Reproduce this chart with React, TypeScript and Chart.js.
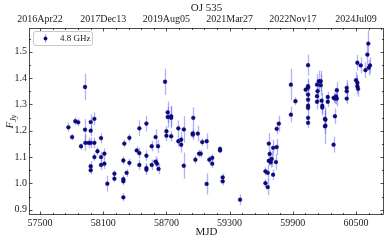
import React, { useEffect, useRef } from 'react';
import { Chart, registerables } from 'chart.js';
Chart.register(...registerables);

const title = 'OJ 535';
const legendLabel = '4.8 GHz';
const xLabel = 'MJD';

const mjd = [
  57769, 57804, 57835, 57862, 57889, 57927, 57927, 57930, 57960, 57981, 57981, 57981, 57981, 57981,
  58016, 58016, 58016, 58045, 58079, 58079, 58079, 58111, 58111, 58139, 58206, 58206,
  58291, 58291, 58291, 58291, 58300, 58322, 58348, 58348, 58418, 58443, 58443, 58443, 58510, 58510,
  58510, 58510, 58560, 58560, 58597, 58597, 58610, 58620, 58625,
  58687, 58700, 58700, 58712, 58712, 58745, 58745, 58745, 58813, 58813, 58840, 58840, 58865, 58865,
  58955, 58950, 58950, 58975, 58998, 59010, 59025, 59040, 59082, 59082, 59107, 59135, 59135, 59209,
  59209, 59234, 59234, 59399,
  59640, 59640, 59662, 59662, 59672, 59672, 59680, 59690, 59700, 59713, 59713, 59740, 59747, 59747, 59767,
  59882, 59882, 59925, 60022, 60045, 60045, 60045, 60045, 60045, 60045, 60045, 60045, 60045,
  60130, 60130, 60135, 60130, 60147, 60165, 60165, 60173, 60180, 60180, 60205, 60205, 60210, 60210,
  60232, 60232, 60287, 60300, 60300, 60310, 60287, 60318, 60318,
  60412, 60412, 60412, 60500, 60513, 60513, 60513, 60520, 60545, 60590, 60608, 60617, 60633, 60620,
];
const flux = [
  1.213, 1.176, 1.236, 1.232, 1.141, 1.366, 1.204, 1.154, 1.154, 1.233, 1.2, 1.154, 1.065, 1.05,
  1.245, 1.154, 1.1, 1.122, 1.172, 1.1, 1.07, 1.113, 1.075, 0.999, 1.037, 1.018,
  1.008, 1.016, 0.947, 1.087, 1.151, 1.04, 1.078, 1.173, 1.125, 1.115, 1.209, 1.07, 1.227, 1.105,
  1.058, 1.052, 1.141, 1.07, 1.176, 1.083, 1.075, 1.141, 1.055,
  1.386, 1.198, 1.181, 1.27, 1.252, 1.255, 1.249, 1.179, 1.209, 1.16, 1.166, 1.147, 1.205, 1.067,
  1.249, 1.19, 1.185, 1.09, 1.189, 1.113, 1.113, 1.157, 1.16, 0.998, 1.09, 1.097, 1.075, 1.131,
  1.125, 1.023, 1.008, 0.938,
  1.046, 1.001, 1.04, 0.986, 1.151, 1.086, 1.112, 1.08, 1.093, 1.135, 1.033, 1.081, 1.207, 1.138, 1.227,
  1.375, 1.261, 1.312, 1.356, 1.449, 1.369, 1.363, 1.337, 1.318, 1.295, 1.287, 1.249, 1.23,
  1.375, 1.331, 1.35, 1.31, 1.388, 1.388, 1.373, 1.314, 1.295, 1.288, 1.245, 1.217, 1.242, 1.219,
  1.328, 1.31, 1.325, 1.322, 1.255, 1.33, 1.147, 1.354, 1.322,
  1.363, 1.35, 1.322, 1.392, 1.458, 1.382, 1.369, 1.359, 1.448, 1.43, 1.489, 1.531, 1.448, 1.439,
];
const fluxErr = [
  0.018, 0.012, 0.015, 0.015, 0.012, 0.05, 0.04, 0.03, 0.02, 0.03, 0.02, 0.02, 0.02, 0.015,
  0.025, 0.02, 0.015, 0.015, 0.02, 0.02, 0.02, 0.02, 0.02, 0.03, 0.012, 0.012,
  0.015, 0.015, 0.015, 0.015, 0.015, 0.015, 0.015, 0.015, 0.015, 0.02, 0.03, 0.02, 0.03, 0.02,
  0.02, 0.02, 0.02, 0.02, 0.03, 0.02, 0.02, 0.025, 0.02,
  0.05, 0.02, 0.02, 0.04, 0.04, 0.04, 0.04, 0.02, 0.03, 0.02, 0.03, 0.03, 0.05, 0.05,
  0.04, 0.02, 0.02, 0.015, 0.03, 0.015, 0.015, 0.015, 0.03, 0.04, 0.015, 0.015, 0.015, 0.01,
  0.01, 0.015, 0.015, 0.02,
  0.015, 0.015, 0.03, 0.03, 0.04, 0.02, 0.015, 0.02, 0.03, 0.03, 0.02, 0.03, 0.02, 0.03, 0.03,
  0.06, 0.03, 0.015, 0.02, 0.04, 0.03, 0.03, 0.02, 0.02, 0.02, 0.02, 0.02, 0.02,
  0.04, 0.03, 0.04, 0.03, 0.04, 0.04, 0.04, 0.03, 0.03, 0.03, 0.03, 0.03, 0.04, 0.07,
  0.02, 0.02, 0.02, 0.02, 0.03, 0.03, 0.03, 0.03, 0.03,
  0.03, 0.03, 0.02, 0.03, 0.03, 0.03, 0.03, 0.03, 0.03, 0.03, 0.04, 0.05, 0.03, 0.03,
];

const xTicks = [57500, 58100, 58700, 59300, 59900, 60500];
const topTickLabels = ['2016Apr22', '2017Dec13', '2019Aug05', '2021Mar27', '2022Nov17', '2024Jul09'];
const yTicks = [0.9, 1.0, 1.1, 1.2, 1.3, 1.4, 1.5];

const X_MIN = 57395;
const X_MAX = 60766;
const Y_MIN = 0.88;
const Y_MAX = 1.59;

const FONT = '"Liberation Serif", "DejaVu Serif", serif';
const MARKER = '#0a0a85';
const ERR = 'rgba(100, 100, 250, 0.5)';
const INK = '#222';

const decor = {
  id: 'decor',
  beforeDatasetsDraw(chart: any) {
    const ctx = chart.ctx;
    const xs = chart.scales.x;
    const ys = chart.scales.y;
    ctx.save();
    ctx.strokeStyle = ERR;
    ctx.lineWidth = 1.3;
    for (let i = 0; i < mjd.length; i++) {
      const px = Math.round(xs.getPixelForValue(mjd[i])) + 0.5;
      const y1 = ys.getPixelForValue(flux[i] - fluxErr[i]);
      const y2 = ys.getPixelForValue(flux[i] + fluxErr[i]);
      ctx.beginPath();
      ctx.moveTo(px, y1);
      ctx.lineTo(px, y2);
      ctx.stroke();
    }
    ctx.restore();
  },
  afterDraw(chart: any) {
    const ctx = chart.ctx;
    const ca = chart.chartArea;
    const xs = chart.scales.x;
    const ys = chart.scales.y;
    ctx.save();
    ctx.strokeStyle = INK;
    ctx.lineWidth = 0.8;
    ctx.strokeRect(ca.left + 0.5, ca.top + 0.5, ca.right - ca.left - 1, ca.bottom - ca.top - 1);
    const tickX = (v: number, len: number) => {
      const px = Math.round(xs.getPixelForValue(v)) + 0.5;
      ctx.beginPath();
      ctx.moveTo(px, ca.bottom);
      ctx.lineTo(px, ca.bottom - len);
      ctx.moveTo(px, ca.top);
      ctx.lineTo(px, ca.top + len);
      ctx.stroke();
    };
    const tickY = (v: number, len: number) => {
      const py = Math.round(ys.getPixelForValue(v)) + 0.5;
      ctx.beginPath();
      ctx.moveTo(ca.left, py);
      ctx.lineTo(ca.left + len, py);
      ctx.moveTo(ca.right, py);
      ctx.lineTo(ca.right - len, py);
      ctx.stroke();
    };
    for (let v = 57500 - 120; v <= X_MAX; v += 120) {
      if (v < X_MIN) continue;
      const major = (v - 57500) % 600 === 0;
      tickX(v, major ? 3.5 : 2);
    }
    for (let k = 0; k < 20; k++) {
      const v = 0.9 + k * 0.05;
      if (v > Y_MAX) break;
      const major = k % 2 === 0;
      tickY(v, major ? 3.5 : 2);
    }
    ctx.fillStyle = INK;
    ctx.font = `11px ${FONT}`;
    ctx.textAlign = 'center';
    ctx.textBaseline = 'middle';
    ctx.fillText(title, (ca.left + ca.right) / 2, 8);
    ctx.fillText(xLabel, (ca.left + ca.right) / 2, 232);
    ctx.translate(10, (ca.top + ca.bottom) / 2);
    ctx.rotate(-Math.PI / 2);
    ctx.textAlign = 'left';
    ctx.textBaseline = 'alphabetic';
    ctx.font = `italic 11px ${FONT}`;
    const fw = ctx.measureText('F').width;
    ctx.font = `italic 8px ${FONT}`;
    const jw = ctx.measureText('Jy').width;
    const start = -(fw + jw) / 2;
    ctx.font = `italic 11px ${FONT}`;
    ctx.fillText('F', start, 3);
    ctx.font = `italic 8px ${FONT}`;
    ctx.fillText('Jy', start + fw, 6);
    ctx.restore();
    ctx.save();
    const lx = 33, ly = 31, lw = 59, lh = 14;
    ctx.beginPath();
    if ((ctx as any).roundRect) (ctx as any).roundRect(lx + 0.5, ly + 0.5, lw, lh, 2.5);
    else ctx.rect(lx + 0.5, ly + 0.5, lw, lh);
    ctx.fillStyle = 'rgba(255,255,255,0.85)';
    ctx.fill();
    ctx.strokeStyle = '#c8c8c8';
    ctx.lineWidth = 1;
    ctx.stroke();
    ctx.strokeStyle = ERR;
    ctx.lineWidth = 1.3;
    ctx.beginPath();
    ctx.moveTo(45.5, ly + 3);
    ctx.lineTo(45.5, ly + 12);
    ctx.stroke();
    ctx.fillStyle = MARKER;
    ctx.beginPath();
    ctx.arc(45.5, ly + 7.5, 1.9, 0, Math.PI * 2);
    ctx.fill();
    ctx.fillStyle = INK;
    ctx.font = `9px ${FONT}`;
    ctx.textAlign = 'left';
    ctx.textBaseline = 'middle';
    ctx.fillText(legendLabel, 60, ly + 8);
    ctx.restore();
  },
};

export default function App() {
  const ref = useRef<HTMLCanvasElement | null>(null);
  useEffect(() => {
    if (!ref.current) return;
    const chart = new Chart(ref.current, {
      type: 'scatter',
      data: {
        datasets: [
          {
            label: legendLabel,
            data: mjd.map((m, i) => ({ x: m, y: flux[i] })),
            xAxisID: 'x',
            yAxisID: 'y',
            pointRadius: 1.9,
            pointHoverRadius: 1.9,
            backgroundColor: MARKER,
            borderColor: '#000050',
            borderWidth: 0.4,
          },
        ],
      },
      options: {
        responsive: false,
        animation: false,
        devicePixelRatio: 1,
        layout: { padding: { left: 0, right: 5, top: 0, bottom: 0 } },
        plugins: {
          legend: { display: false },
          tooltip: { enabled: false },
          title: { display: false },
        },
        events: [],
        scales: {
          x: {
            type: 'linear',
            position: 'bottom',
            min: X_MIN,
            max: X_MAX,
            grid: { display: false, drawTicks: false },
            border: { display: false },
            afterBuildTicks: (s: any) => {
              s.ticks = xTicks.map((v) => ({ value: v }));
            },
            afterFit: (s: any) => {
              s.height = 25;
            },
            ticks: {
              autoSkip: false,
              maxRotation: 0,
              padding: 2,
              color: INK,
              font: { family: FONT, size: 10 },
              callback: (v: any) => String(v),
            },
          },
          x2: {
            type: 'linear',
            position: 'top',
            min: X_MIN,
            max: X_MAX,
            grid: { display: false, drawTicks: false },
            border: { display: false },
            afterBuildTicks: (s: any) => {
              s.ticks = xTicks.map((v) => ({ value: v }));
            },
            afterFit: (s: any) => {
              s.height = 28;
            },
            ticks: {
              autoSkip: false,
              maxRotation: 0,
              padding: 3,
              color: INK,
              font: { family: FONT, size: 10 },
              callback: (v: any) => {
                const i = xTicks.indexOf(Number(v));
                return i >= 0 ? topTickLabels[i] : '';
              },
            },
          },
          y: {
            type: 'linear',
            position: 'left',
            min: Y_MIN,
            max: Y_MAX,
            grid: { display: false, drawTicks: false },
            border: { display: false },
            afterBuildTicks: (s: any) => {
              s.ticks = yTicks.map((v) => ({ value: v }));
            },
            afterFit: (s: any) => {
              s.width = 29;
            },
            ticks: {
              padding: 2,
              color: INK,
              font: { family: FONT, size: 10 },
              callback: (v: any) => Number(v).toFixed(1),
            },
          },
        },
      },
      plugins: [decor],
    });
    return () => chart.destroy();
  }, []);
  return (
    <div style={{ position: 'fixed', left: 0, top: 0, width: 389, height: 240, background: '#fff' }}>
      <canvas ref={ref} width={389} height={240} style={{ display: 'block' }} />
    </div>
  );
}
